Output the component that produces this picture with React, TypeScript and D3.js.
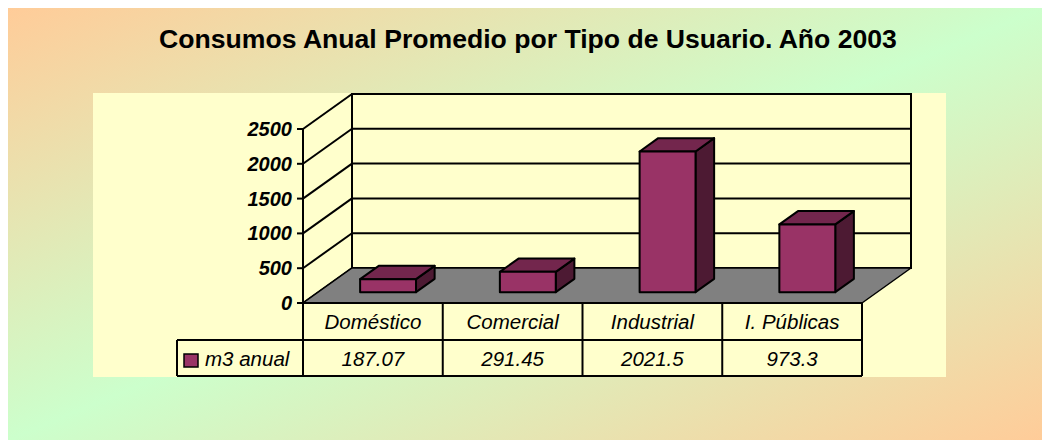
import React from 'react';
import * as d3 from 'd3';

const categories = ['Doméstico', 'Comercial', 'Industrial', 'I. Públicas'];
const values = [187.07, 291.45, 2021.5, 973.3];
const valueLabels = ['187.07', '291.45', '2021.5', '973.3'];
const ticks = [0, 500, 1000, 1500, 2000, 2500];
const seriesName = 'm3 anual';
const title = 'Consumos Anual Promedio por Tipo de Usuario. Año 2003';

const FONT = '"Liberation Sans", Arial, Helvetica, sans-serif';

export default function App() {
  const W = 1042, H = 440;
  const frontLeft = 303, frontRight = 862;
  const y = d3.scaleLinear().domain([0, 2500]).range([303, 129]);
  const DX = 49, DY = -35;
  const f1 = 0.31, f2 = 0.69;
  const xBar = d3.scaleBand<string>().domain(categories).range([frontLeft, frontRight]).paddingInner(0.6).paddingOuter(0.3);
  const xCell = d3.scaleBand<string>().domain(categories).range([frontLeft, frontRight]).padding(0);
  const backLeft = frontLeft + DX, backRight = frontRight + DX;
  const y0 = y(0), yTop = y(2500);
  const rowTop = y0, rowMid = 340, rowBot = 376;
  const legendLeft = 177;
  const bdx = (f2 - f1) * DX, bdy = (f2 - f1) * DY;
  const line = d3.line();

  return (
    <svg width={W} height={H} style={{ position: 'absolute', left: 0, top: 0 }}>
      <defs>
        <linearGradient id="bg" x1="0" y1="0" x2="1" y2="1">
          <stop offset="0" stopColor="#FFCC99" />
          <stop offset="0.5" stopColor="#CCFFCC" />
          <stop offset="1" stopColor="#FFCC99" />
        </linearGradient>
      </defs>
      <rect x={8} y={8} width={W - 8} height={H - 8} fill="url(#bg)" />
      <text x={528} y={48} textAnchor="middle" fontFamily={FONT} fontWeight="bold" fontSize={26.6} fill="#000">{title}</text>
      <rect x={93} y={93} width={853} height={284} fill="#FFFFCC" />

      {/* back wall */}
      <rect x={backLeft} y={yTop + DY} width={backRight - backLeft} height={y0 - yTop} fill="#FFFFCC" stroke="#000" strokeWidth={2} />
      {ticks.map(t => (
        <g key={'g' + t}>
          <path d={line([[backLeft, y(t) + DY], [backRight, y(t) + DY]]) || ''} stroke="#000" strokeWidth={2} fill="none" />
          <path d={line([[frontLeft, y(t)], [backLeft, y(t) + DY]]) || ''} stroke="#000" strokeWidth={2} fill="none" />
        </g>
      ))}
      {/* floor */}
      <polygon points={[[frontLeft, y0], [backLeft, y0 + DY], [backRight, y0 + DY], [frontRight, y0]].map(p => p.join(',')).join(' ')} fill="#808080" stroke="#000" strokeWidth={1.5} strokeLinejoin="round" />
      {/* front axis */}
      <path d={line([[frontLeft, yTop], [frontLeft, y0]]) || ''} stroke="#000" strokeWidth={2} />
      {ticks.map(t => (
        <g key={'t' + t}>
          <path d={line([[frontLeft - 6, y(t)], [frontLeft, y(t)]]) || ''} stroke="#000" strokeWidth={2} />
          <text x={292} y={y(t) + 7} textAnchor="end" fontFamily={FONT} fontWeight="bold" fontStyle="italic" fontSize={20} fill="#000">{t}</text>
        </g>
      ))}

      {/* bars */}
      {categories.map((c, i) => {
        const x0 = (xBar(c) as number) + f1 * DX;
        const x1 = x0 + xBar.bandwidth();
        const yb = y(0) + f1 * DY;
        const yt = y(values[i]) + f1 * DY;
        const pts = (a: number[][]) => a.map(p => p.join(',')).join(' ');
        return (
          <g key={c} stroke="#000" strokeWidth={2} strokeLinejoin="round">
            <polygon points={pts([[x1, yt], [x1 + bdx, yt + bdy], [x1 + bdx, yb + bdy], [x1, yb]])} fill="#4D1A33" />
            <polygon points={pts([[x0, yt], [x0 + bdx, yt + bdy], [x1 + bdx, yt + bdy], [x1, yt]])} fill="#73264D" />
            <rect x={x0} y={yt} width={x1 - x0} height={yb - yt} fill="#993366" />
          </g>
        );
      })}

      {/* data table */}
      <g stroke="#000" strokeWidth={2} fill="none">
        <path d={line([[frontLeft, rowTop], [frontRight, rowTop]]) || ''} />
        <path d={line([[legendLeft, rowMid], [frontRight, rowMid]]) || ''} />
        <path d={line([[legendLeft, rowBot], [frontRight, rowBot]]) || ''} />
        <path d={line([[legendLeft, rowMid], [legendLeft, rowBot]]) || ''} />
        <path d={line([[frontLeft, rowTop], [frontLeft, rowBot]]) || ''} />
        {categories.map(c => (
          <path key={'v' + c} d={line([[(xCell(c) as number) + xCell.bandwidth(), rowTop], [(xCell(c) as number) + xCell.bandwidth(), rowBot]]) || ''} />
        ))}
      </g>
      {categories.map((c, i) => (
        <g key={'l' + c} fontFamily={FONT} fontStyle="italic" fontSize={20.5} fill="#000" textAnchor="middle">
          <text x={(xCell(c) as number) + xCell.bandwidth() / 2} y={329}>{c}</text>
          <text x={(xCell(c) as number) + xCell.bandwidth() / 2} y={366}>{valueLabels[i]}</text>
        </g>
      ))}
      <rect x={184} y={354} width={14} height={13} fill="#993366" stroke="#000" strokeWidth={1.5} />
      <text x={205} y={366} fontFamily={FONT} fontStyle="italic" fontSize={20.5} fill="#000">{seriesName}</text>
    </svg>
  );
}
